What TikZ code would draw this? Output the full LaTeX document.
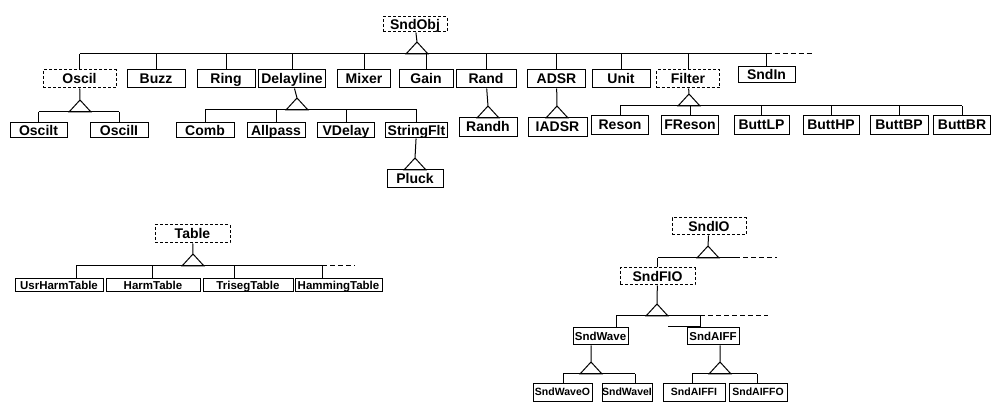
\documentclass[tikz,border=0pt]{standalone}
\usepackage{fontspec}
\setmainfont{Liberation Sans}
\usetikzlibrary{positioning}
\usetikzlibrary{calc}

\tikzset{
    cls/.style={draw, line width=1pt, inner sep=0pt, minimum height=18pt,
        text height=10pt, text depth=0pt, font=\fontsize{14}{14}\selectfont\bfseries},
    abs/.style={cls, dash pattern=on 3pt off 2pt},
    mid/.style={font=\fontsize{11.5}{12}\selectfont\bfseries, text height=8.2pt, minimum height=13pt},
    leaf/.style={font=\fontsize{10.5}{11}\selectfont\bfseries, text height=7.5pt, minimum height=18pt},
    isa/.style={insert path={++(0,0) -- ++(-11,12) -- ++(22,0) -- cycle}},
    more/.style={dash pattern=on 5pt off 3pt},
}

\begin{document}
\begin{tikzpicture}[x=1pt, y=-1pt, line width=1pt]
    \useasboundingbox (0,0) rectangle (991,403);

    % SndObj tree
    \node[abs, minimum width=64pt, minimum height=15pt] (sndobj) at (415,24.5) {SndObj};
    \coordinate (objtip) at (417,42);
    \coordinate (objbar) at (417,54);
    \coordinate (objmore) at (813,54);

    \node[abs, minimum width=73pt] (oscil) at (79.5,79) {Oscil};
    \node[cls, minimum width=58pt] (buzz) at (156,79) {Buzz};
    \node[cls, minimum width=58pt] (ring) at (226,79) {Ring};
    \node[cls, minimum width=67pt] (delayline) at (292,79) {Delayline};
    \node[cls, minimum width=53pt] (mixer) at (364,79) {Mixer};
    \node[cls, minimum width=54pt] (gain) at (426,79) {Gain};
    \node[cls, minimum width=60pt] (rand) at (486,79) {Rand};
    \node[cls, minimum width=58pt] (adsr) at (556.5,79) {ADSR};
    \node[cls, minimum width=58pt] (unit) at (621,79) {Unit};
    \node[abs, minimum width=63pt] (filter) at (688,79) {Filter};
    \node[cls, minimum width=57pt, minimum height=16pt] (sndin) at (766.5,75) {SndIn};

    \draw (sndobj) -- (objtip) [isa];
    \draw (oscil.north |- objbar) -- (sndin.north |- objbar);
    \draw[more] (sndin.north |- objbar) -- (objmore);
    \foreach \n in {oscil,buzz,ring,delayline,mixer,gain,rand,adsr,unit,filter,sndin}
        \draw (\n.north) -- (\n.north |- objbar);

    % Oscil
    \node[cls, minimum width=57pt, minimum height=15pt] (oscilt) at (38.5,130.5) {Oscilt};
    \node[cls, minimum width=58pt, minimum height=15pt] (oscili) at (119,130.5) {OscilI};
    \coordinate (osctip) at (80,100);
    \coordinate (oscbar) at (80,112);
    \draw (oscil) -- (osctip) [isa];
    \draw (oscilt.north |- oscbar) -- (oscili.north |- oscbar);
    \foreach \n in {oscilt,oscili}
        \draw (\n.north) -- (\n.north |- oscbar);

    % Delayline
    \node[cls, minimum width=58pt, minimum height=15pt] (comb) at (205,130.5) {Comb};
    \node[cls, minimum width=58pt, minimum height=15pt] (allpass) at (276,130.5) {Allpass};
    \node[cls, minimum width=57pt, minimum height=15pt] (vdelay) at (346,130.5) {VDelay};
    \node[cls, minimum width=62pt, minimum height=15pt] (stringflt) at (416.5,130.5) {StringFlt};
    \coordinate (dlytip) at (297,98);
    \coordinate (dlybar) at (297,110);
    \draw (delayline) -- (dlytip) [isa];
    \draw (comb.north |- dlybar) -- (stringflt.north |- dlybar);
    \foreach \n in {comb,allpass,vdelay,stringflt}
        \draw (\n.north) -- (\n.north |- dlybar);

    \node[cls, minimum width=56pt] (pluck) at (415,179) {Pluck};
    \coordinate (plktip) at (415,158);
    \draw (stringflt) -- (plktip) [isa];

    % Rand, ADSR
    \node[cls, minimum width=58pt, minimum height=19pt] (randh) at (488,127) {Randh};
    \coordinate (rndtip) at (488,106);
    \draw (rand) -- (rndtip) [isa];
    \node[cls, minimum width=59pt, minimum height=19pt] (iadsr) at (557.5,127) {IADSR};
    \coordinate (envtip) at (557,106);
    \draw (adsr) -- (envtip) [isa];

    % Filter
    \node[cls, minimum width=57pt, minimum height=19pt] (reson) at (620,125) {Reson};
    \node[cls, minimum width=57pt, minimum height=19pt] (freson) at (690,125) {FReson};
    \node[cls, minimum width=55pt, minimum height=19pt] (buttlp) at (761.5,125) {ButtLP};
    \node[cls, minimum width=56pt, minimum height=19pt] (butthp) at (831,125) {ButtHP};
    \node[cls, minimum width=58pt, minimum height=19pt] (buttbp) at (899,125) {ButtBP};
    \node[cls, minimum width=57pt, minimum height=19pt] (buttbr) at (962,125) {ButtBR};
    \coordinate (flttip) at (689,94);
    \coordinate (fltbar) at (689,106);
    \draw (filter) -- (flttip) [isa];
    \draw (reson.north |- fltbar) -- (buttbr.north |- fltbar);
    \foreach \n in {reson,freson,buttlp,butthp,buttbp,buttbr}
        \draw (\n.north) -- (\n.north |- fltbar);

    % Table tree
    \node[abs, minimum width=75pt] (table) at (192.5,234) {Table};
    \node[cls, mid, minimum width=88pt] (usrharm) at (59,285.5) {UsrHarmTable};
    \node[cls, mid, minimum width=94pt] (harm) at (153,285.5) {HarmTable};
    \node[cls, mid, minimum width=90pt] (triseg) at (248,285.5) {TrisegTable};
    \node[cls, mid, minimum width=87pt] (hamming) at (338.5,285.5) {HammingTable};
    \coordinate (tabtip) at (193,254);
    \coordinate (taba) at (76,266);
    \coordinate (tabb) at (152,266);
    \coordinate (tabc) at (234,266);
    \coordinate (tabd) at (322,266);
    \coordinate (tabmore) at (355,266);
    \draw (table) -- (tabtip) [isa];
    \draw (taba) -- (tabd);
    \draw[more] (tabd) -- (tabmore);
    \draw (taba) -- (taba |- usrharm.north);
    \draw (tabb) -- (tabb |- harm.north);
    \draw (tabc) -- (tabc |- triseg.north);
    \draw (tabd) -- (tabd |- hamming.north);

    % SndIO tree
    \node[abs, minimum width=74pt, minimum height=17pt] (sndio) at (709,226.5) {SndIO};
    \node[abs, minimum width=75pt, minimum height=17pt] (sndfio) at (657.5,276.5) {SndFIO};
    \coordinate (iotip) at (708,246);
    \coordinate (iobar) at (708,258);
    \coordinate (ioend) at (735,258);
    \coordinate (iomore) at (777,258);
    \draw (sndio) -- (iotip) [isa];
    \draw (sndfio.north |- iobar) -- (ioend);
    \draw[more] (ioend) -- (iomore);
    \draw (sndfio.north) -- (sndfio.north |- iobar);

    \node[cls, minimum width=55pt, minimum height=17pt, font=\fontsize{11.5}{12}\selectfont\bfseries, text height=8.2pt] (sndwave) at (600.5,336.5) {SndWave};
    \node[cls, minimum width=52pt, minimum height=17pt, font=\fontsize{11.5}{12}\selectfont\bfseries, text height=8.2pt] (sndaiff) at (713,336.5) {SndAIFF};
    \coordinate (fiotip) at (657,304);
    \coordinate (fioa) at (616,316);
    \coordinate (fiob) at (700,316);
    \coordinate (fiomore) at (768,316);
    \coordinate (stray) at (668,327);
    \draw (sndfio) -- (fiotip) [isa];
    \draw (fioa) -- (fiob);
    \draw[more] (fiob) -- (fiomore);
    \draw (fioa) -- (fioa |- sndwave.north);
    \draw (fiob) -- (fiob |- sndaiff.north);
    \draw (stray) -- (stray -| fiob);

    \node[cls, leaf, minimum width=59pt] (sndwaveo) at (562.5,392) {SndWaveO};
    \node[cls, leaf, minimum width=50pt] (sndwavei) at (627,392) {SndWaveI};
    \node[cls, leaf, minimum width=62pt] (sndaiffi) at (694,392) {SndAIFFI};
    \node[cls, leaf, minimum width=58pt] (sndaiffo) at (758,392) {SndAIFFO};
    \coordinate (wavtip) at (591,362);
    \coordinate (wava) at (563,374);
    \coordinate (wavb) at (635,374);
    \coordinate (aiftip) at (720,362);
    \coordinate (aifa) at (692,374);
    \coordinate (aifb) at (757,374);
    \draw (sndwave.south -| wavtip) -- (wavtip) [isa];
    \draw (wava) -- (wavb);
    \draw (wava) -- (wava |- sndwaveo.north);
    \draw (wavb) -- (wavb |- sndwavei.north);
    \draw (sndaiff.south -| aiftip) -- (aiftip) [isa];
    \draw (aifa) -- (aifb);
    \draw (aifa) -- (aifa |- sndaiffi.north);
    \draw (aifb) -- (aifb |- sndaiffo.north);

\end{tikzpicture}
\end{document}
